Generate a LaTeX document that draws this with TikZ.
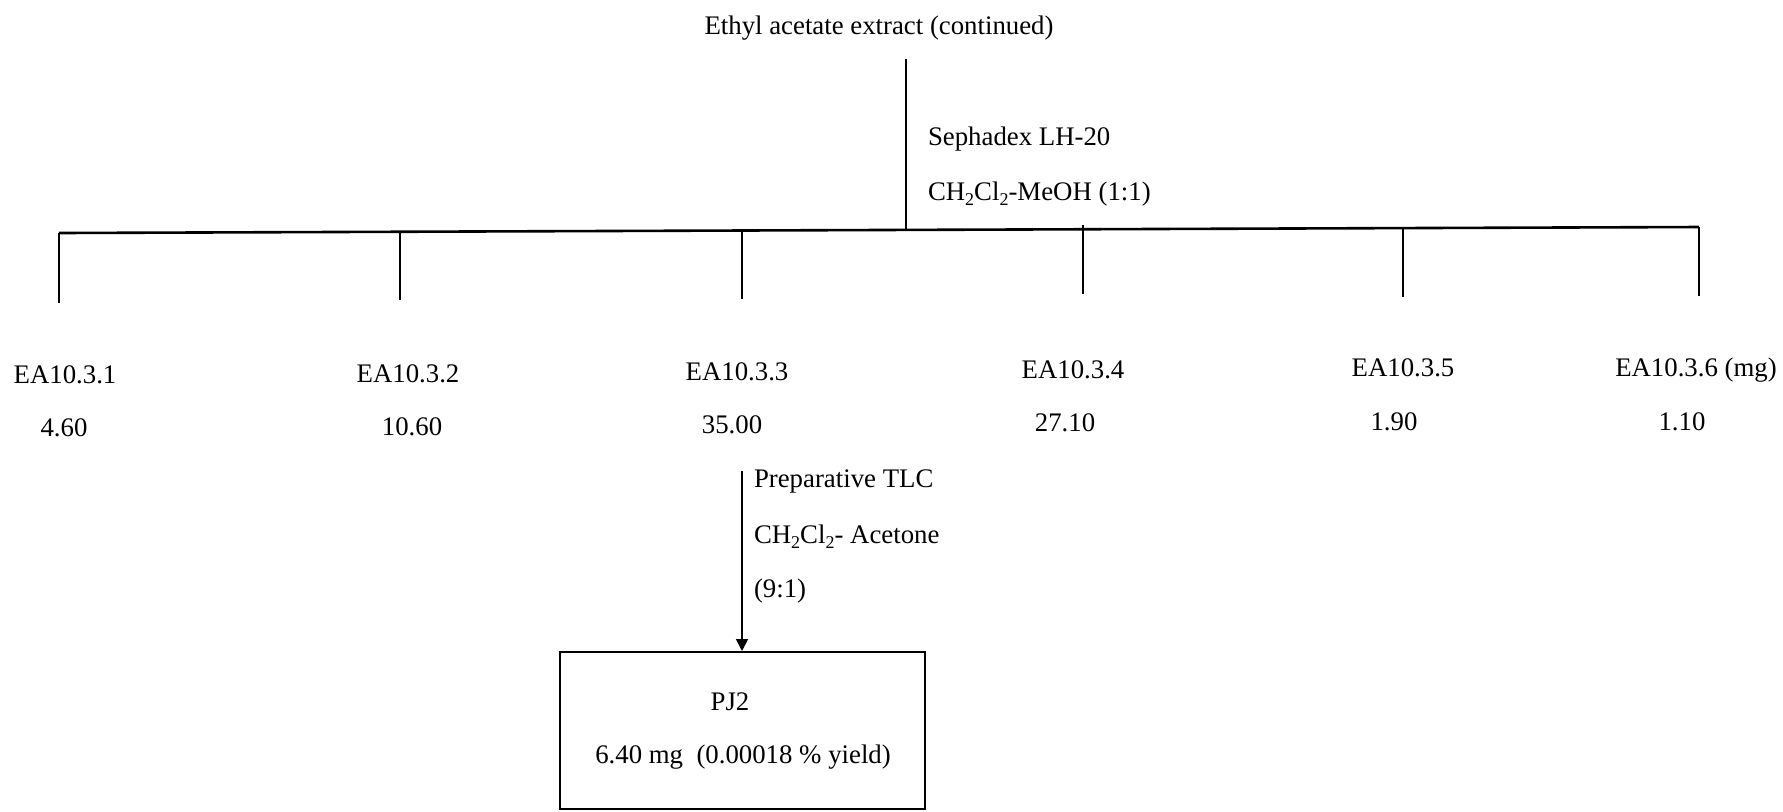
\documentclass[tikz,border=0pt]{standalone}
\usepackage{fontspec}
\setmainfont{Liberation Serif}
\usetikzlibrary{arrows.meta}
\newcommand{\chsubtwo}{\raisebox{-0.45ex}{\fontsize{9pt}{9pt}\selectfont 2}}
\tikzset{
  txt/.style={inner sep=0pt, outer sep=0pt, font=\fontsize{13.4pt}{15pt}\selectfont},
  lbl/.style={txt, anchor=base},
  side/.style={txt, anchor=base west},
  ln/.style={line width=1pt, line cap=butt},
  bus/.style={line width=1.3pt},
  arr/.style={line width=0.9pt, -{Triangle[length=6pt,width=6pt]}},
  boxstyle/.style={draw, line width=1pt, minimum width=182.5pt, minimum height=78.5pt, inner sep=0pt}
}
\begin{document}
\begin{tikzpicture}[x=0.5pt,y=-0.5pt]
\useasboundingbox (0,0) rectangle (1783,811);
\fill[white] (0,0) rectangle (1783,811);

% title and first step
\node[lbl] (title) at (879,34) {Ethyl acetate extract (continued)};
\coordinate (ttop) at (906,59);
\coordinate (tbot) at (906,230);
\draw[ln] (ttop) -- (tbot);
\node[side] (seph) at (928,145) {Sephadex LH-20};
\node[side] (solv1) at (928,200) {CH\chsubtwo Cl\chsubtwo-MeOH (1:1)};

% bus line
\coordinate (b1) at (59,233);
\coordinate (b6) at (1699,227);
\draw[bus] (b1) -- (b6);

% drops
\coordinate (t1) at (59,233);   \coordinate (d1) at (59,303);
\coordinate (t2) at (400,232);  \coordinate (d2) at (400,300);
\coordinate (t3) at (742,231);  \coordinate (d3) at (742,299);
\coordinate (t4) at (1083,225); \coordinate (d4) at (1083,294);
\coordinate (t5) at (1403,228); \coordinate (d5) at (1403,297);
\coordinate (t6) at (1699,227); \coordinate (d6) at (1699,296);
\foreach \i in {1,...,6} { \draw[ln] (t\i) -- (d\i); }

% fractions
\node[lbl] (f1) at (65,383)   {EA10.3.1};
\node[lbl] (w1) at (64,436)   {4.60};
\node[lbl] (f2) at (408,382)  {EA10.3.2};
\node[lbl] (w2) at (412,435)  {10.60};
\node[lbl] (f3) at (737,380)  {EA10.3.3};
\node[lbl] (w3) at (732,433)  {35.00};
\node[lbl] (f4) at (1073,378) {EA10.3.4};
\node[lbl] (w4) at (1065,431) {27.10};
\node[lbl] (f5) at (1403,376) {EA10.3.5};
\node[lbl] (w5) at (1394,430) {1.90};
\node[lbl] (f6) at (1696,376) {EA10.3.6 (mg)};
\node[lbl] (w6) at (1682,430) {1.10};

% preparative TLC step
\coordinate (ptop) at (742,471);
\node[side] (tlc1) at (754,487) {Preparative TLC};
\node[side] (tlc2) at (754,543) {CH\chsubtwo Cl\chsubtwo- Acetone};
\node[side] (tlc3) at (754,597) {(9:1)};

\node[boxstyle] (box) at (742,730.5) {};
\draw[arr] (ptop) -- (box.north);
\node[lbl] (pj) at (730,710) {PJ2};
\node[lbl] (yield) at (743,763) {6.40 mg\ \ (0.00018 \% yield)};
\end{tikzpicture}
\end{document}
